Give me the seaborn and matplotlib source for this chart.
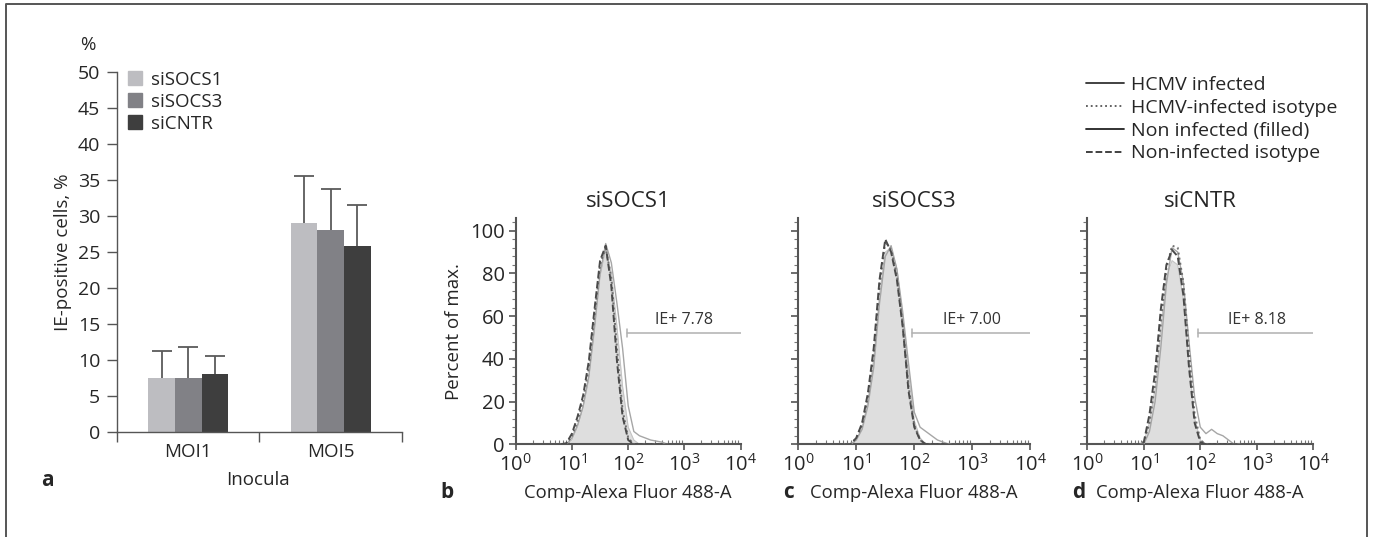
import matplotlib
matplotlib.use("Agg")
import matplotlib.pyplot as plt
import matplotlib.ticker as mticker
from matplotlib.lines import Line2D
from matplotlib.patches import Patch
import numpy as np
import pandas as pd
import seaborn as sns

# ---- panel a: bar chart ----
inocula = ["MOI1", "MOI5"]
groups = ["siSOCS1", "siSOCS3", "siCNTR"]
means_moi1 = [7.5, 7.5, 8.1]
means_moi5 = [29.0, 28.1, 25.8]
err_moi1 = [3.7, 4.3, 2.5]
err_moi5 = [6.6, 5.6, 5.7]
bar_colors = ["#bdbdc1", "#818186", "#3e3e3e"]

# ---- panels b-d: flow cytometry histograms (log10 fluorescence grid) ----
log_grid = [0.8, 0.9, 1.0, 1.1, 1.2, 1.3, 1.4, 1.5, 1.6, 1.7,
            1.8, 1.9, 2.0, 2.1, 2.2, 2.3, 2.4, 2.5, 2.6, 2.7]

b_infected = [0, 0, 3, 9, 18, 32, 55, 80, 94, 85, 66, 45, 18, 6, 4, 3, 2, 1.5, 1, 0]
b_inf_iso = [0, 0, 4, 11, 21, 36, 60, 84, 92, 78, 45, 16, 3, 0, 0, 0, 0, 0, 0, 0]
b_noninf = [0, 0, 2, 8, 17, 30, 52, 78, 91, 80, 55, 27, 8, 2, 0, 0, 0, 0, 0, 0]
b_non_iso = [0, 0.5, 5, 13, 23, 39, 63, 86, 93, 74, 39, 13, 2, 0, 0, 0, 0, 0, 0, 0]

c_infected = [0, 0, 2, 7, 18, 36, 66, 88, 93, 82, 62, 38, 15, 8, 6, 4, 2, 1, 0, 0]
c_inf_iso = [0, 0, 3, 9, 22, 42, 74, 95, 91, 79, 56, 27, 9, 2, 0, 0, 0, 0, 0, 0]
c_noninf = [0, 0, 2, 8, 20, 40, 70, 90, 92, 82, 60, 33, 11, 3, 0, 0, 0, 0, 0, 0]
c_non_iso = [0, 0, 3, 10, 24, 45, 77, 96, 90, 77, 55, 25, 8, 2, 0, 0, 0, 0, 0, 0]

d_infected = [0, 0, 0, 6, 20, 45, 75, 92, 90, 76, 48, 22, 8, 5, 7, 5, 4, 2, 0, 0]
d_inf_iso = [0, 0, 1, 10, 28, 56, 82, 93, 92, 76, 44, 14, 2, 0, 0, 0, 0, 0, 0, 0]
d_noninf = [0, 0, 1, 10, 26, 54, 78, 86, 84, 68, 38, 12, 2, 0, 0, 0, 0, 0, 0, 0]
d_non_iso = [0, 0, 1, 14, 34, 63, 84, 91, 88, 70, 36, 10, 1, 0, 0, 0, 0, 0, 0, 0]

titles = ["siSOCS1", "siSOCS3", "siCNTR"]
gate_labels = ["IE+ 7.78", "IE+ 7.00", "IE+ 8.18"]
gate_start = [97, 90, 90]
gate_level = 52

W, H = 1373, 537
sns.set_style("ticks")
plt.rcParams["font.family"] = ["Open Sans", "DejaVu Sans"]
plt.rcParams["mathtext.fontset"] = "custom"
plt.rcParams["mathtext.rm"] = "Open Sans"

fig = plt.figure(figsize=(W / 100, H / 100), dpi=100)
axis_col = "#555555"
fs_a = 13.5


def fx(px):
    return px / W


def fy(py):
    return 1 - py / H


# ---------- panel a ----------
ax_a = fig.add_axes([fx(117), fy(432), fx(402 - 117), (432 - 72) / H])
df = pd.DataFrame({
    "Inocula": [i for i in inocula for _ in groups],
    "group": groups * len(inocula),
    "value": means_moi1 + means_moi5,
})
sns.barplot(data=df, x="Inocula", y="value", hue="group", hue_order=groups,
            palette=bar_colors, width=0.56, errorbar=None, ax=ax_a,
            saturation=1, legend=False, linewidth=0)
errs = {("MOI1", g): e for g, e in zip(groups, err_moi1)}
errs.update({("MOI5", g): e for g, e in zip(groups, err_moi5)})
for gi, g in enumerate(groups):
    for ii, inc in enumerate(inocula):
        bar = ax_a.patches[gi * len(inocula) + ii]
        xc = bar.get_x() + bar.get_width() / 2
        top = bar.get_height()
        e = errs[(inc, g)]
        ax_a.vlines(xc, top, top + e, color="#5a5a5a", lw=1.3, zorder=3)
        ax_a.hlines(top + e, xc - 0.07, xc + 0.07, color="#5a5a5a", lw=1.3, zorder=3)
ax_a.set_ylim(0, 50)
ax_a.set_xlim(-0.5, 1.5)
ax_a.set_yticks(range(0, 51, 5))
ax_a.set_xticks([0, 1])
ax_a.set_xticklabels(inocula, fontsize=fs_a)
ax_a.set_xticks([-0.5, 0.5, 1.5], minor=True)
ax_a.tick_params(axis="x", which="major", length=0, pad=8)
ax_a.tick_params(axis="x", which="minor", length=7, width=1, color=axis_col, direction="out")
ax_a.tick_params(axis="y", length=7, width=1, color=axis_col, labelsize=14, pad=5)
for s in ["top", "right"]:
    ax_a.spines[s].set_visible(False)
for s in ["left", "bottom"]:
    ax_a.spines[s].set_color(axis_col)
    ax_a.spines[s].set_linewidth(1)
ax_a.set_xlabel("")
ax_a.set_ylabel("IE-positive cells, %", fontsize=fs_a, labelpad=4)
handles = [Patch(color=c, label=g) for c, g in zip(bar_colors, groups)]
ax_a.legend(handles=handles, loc="upper left", bbox_to_anchor=(0.0, 1.035),
            frameon=False, fontsize=fs_a, handlelength=0.75, handleheight=0.75,
            handletextpad=0.45, labelspacing=0.22, borderaxespad=0.2)
fig.text(fx(88), fy(45), "%", fontsize=fs_a, ha="center", va="center")
fig.text(fx(258), fy(480), "Inocula", fontsize=fs_a, ha="center", va="center")
fig.text(fx(47), fy(480), "a", fontsize=15, fontweight="bold", ha="center", va="center")

# ---------- panels b-d ----------
panel_boxes = [(515.7, 225), (798.3, 232), (1087.3, 226)]
panel_data = [
    (b_infected, b_inf_iso, b_noninf, b_non_iso),
    (c_infected, c_inf_iso, c_noninf, c_non_iso),
    (d_infected, d_inf_iso, d_noninf, d_non_iso),
]
letters = ["b", "c", "d"]
letter_x = [447, 788, 1079]
xvals = np.power(10.0, log_grid)

for k in range(3):
    left, width = panel_boxes[k]
    ax = fig.add_axes([fx(left), fy(444.3), fx(width), (444.3 - 217.9) / H])
    inf, inf_iso, noninf, non_iso = panel_data[k]
    ax.fill_between(xvals, 0, noninf, color="#dedede", lw=0, zorder=1)
    sns.lineplot(x=xvals, y=noninf, ax=ax, color="#c4c4c4", lw=0.8, zorder=2)
    sns.lineplot(x=xvals, y=inf, ax=ax, color="#a6a6a6", lw=1.0, zorder=3)
    sns.lineplot(x=xvals, y=inf_iso, ax=ax, color="#6e6e6e", lw=1.4,
                 linestyle=":", zorder=4)
    sns.lineplot(x=xvals, y=non_iso, ax=ax, color="#4a4a4a", lw=1.4,
                 linestyle="--", zorder=5)
    ax.set_xscale("log")
    ax.set_xlim(1, 1e4)
    ax.set_ylim(0, 106)
    ax.set_yticks(range(0, 101, 20))
    ax.yaxis.set_minor_locator(mticker.MultipleLocator(4))
    ax.xaxis.set_major_locator(mticker.LogLocator(base=10, numticks=10))
    ax.xaxis.set_minor_locator(mticker.LogLocator(base=10, subs=np.arange(2, 10), numticks=10))
    ax.xaxis.set_minor_formatter(mticker.NullFormatter())
    ax.tick_params(axis="x", which="major", length=4, width=1.2, color=axis_col,
                   direction="out", labelsize=14.5, pad=3)
    ax.tick_params(axis="x", which="minor", length=3, width=0.8, color="#777777",
                   direction="in")
    ax.tick_params(axis="y", which="major", length=5, width=1.2, color=axis_col,
                   labelsize=14.5, pad=3)
    ax.tick_params(axis="y", which="minor", length=3, width=0.8, color="#777777")
    if k > 0:
        ax.set_yticklabels([])
    else:
        ax.set_ylabel("Percent of max.", fontsize=13.5, labelpad=5)
    for s in ["top", "right"]:
        ax.spines[s].set_visible(False)
    for s in ["left", "bottom"]:
        ax.spines[s].set_color(axis_col)
        ax.spines[s].set_linewidth(1.5)
    ax.set_title(titles[k], fontsize=16, pad=8)
    # gate
    ax.plot([gate_start[k], 1e4], [gate_level, gate_level], color="#b0b0b0", lw=1.1)
    ax.plot([gate_start[k], gate_start[k]], [gate_level - 1.8, gate_level + 1.8],
            color="#b0b0b0", lw=1.1)
    ax.text(1000, gate_level + 2.5, gate_labels[k], fontsize=11.5, ha="center",
            va="bottom", color="#333333")
    xc = left + width / 2
    fig.text(fx(xc), fy(493), "Comp-Alexa Fluor 488-A", fontsize=13.3,
             ha="center", va="center")
    fig.text(fx(letter_x[k]), fy(493), letters[k], fontsize=15, fontweight="bold",
             ha="center", va="center")

# top-right line-style legend
leg_items = [("HCMV infected", "-", "#333333"),
             ("HCMV-infected isotype", ":", "#555555"),
             ("Non infected (filled)", "-", "#222222"),
             ("Non-infected isotype", "--", "#333333")]
leg_handles = [Line2D([0], [0], color=c, ls=ls, lw=1.3, label=t) for t, ls, c in leg_items]
fig.legend(handles=leg_handles, loc="upper left", bbox_to_anchor=(fx(1078), fy(68)),
           frameon=False, fontsize=14, handlelength=1.95, handletextpad=0.4,
           labelspacing=0.25, borderaxespad=0)

# figure frame (open at the bottom)
fig.add_artist(Line2D([fx(6), fx(6), fx(1367), fx(1367)],
                      [0, fy(4), fy(4), 0], color="#555555", lw=1.4,
                      transform=fig.transFigure))

fig.savefig("out.png", dpi=100)
